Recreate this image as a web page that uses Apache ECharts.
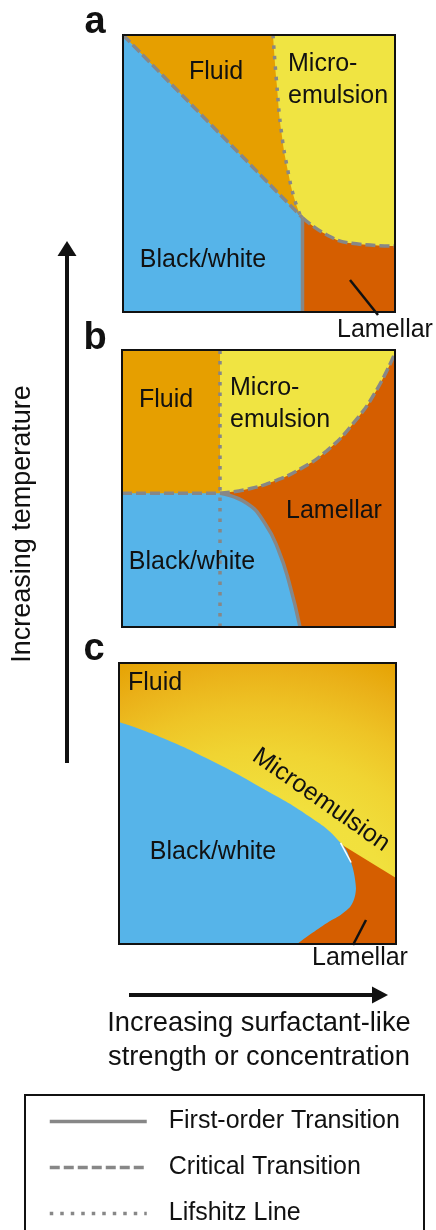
<!DOCTYPE html>
<html>
<head>
<meta charset="utf-8">
<script src="https://cdn.jsdelivr.net/npm/echarts@6/dist/echarts.min.js"></script>
<style>
  html, body { margin: 0; padding: 0; background: #fff; }
  #phase-diagram { width: 436px; height: 1230px; }
</style>
</head>
<body>
<div id="phase-diagram"></div>
<script>
// x = surfactant-like strength (0..1), y = temperature (0..1), one grid per panel

// panel a
const aCritical = [[0, 1], [0.33, 0.67], [0.66, 0.34]];
const aLifshitz = [[0.5515, 1], [0.565, 0.826], [0.583, 0.645], [0.608, 0.501], [0.628, 0.416], [0.652, 0.348]];
const aLamellarTop = [[0.66, 0.34], [0.75, 0.278], [0.84, 0.248], [1, 0.238]];
const aFirstOrder = [[0.66, 0.34], [0.66, 0]];
const aFluidBlock = [[0, 1], [0.5515, 1]];

// panel b
const bCritical = [[0, 0.483], [0.359, 0.483]];
const bMicroLamellar = [[0.359, 0.483], [0.457, 0.497], [0.554, 0.525], [0.652, 0.57], [0.75, 0.636], [0.847, 0.735], [0.933, 0.856], [1, 0.99]];
const bFirstOrder = [[0.359, 0.483], [0.457, 0.447], [0.524, 0.374], [0.573, 0.278], [0.613, 0.158], [0.652, 0]];
const bLifshitz = [[0.359, 0], [0.359, 1]];
const bFluidBlock = [[0, 1], [0.359, 1]];

// panel c
const cWhole = [[0, 1], [1, 1]];
const cBlackWhiteUpper = [[0, 0.79], [0.148, 0.737], [0.329, 0.655], [0.509, 0.559], [0.69, 0.452], [0.798, 0.362], [0.838, 0.29], [0.8556, 0.2]];
const cBlackWhiteLower = [[0.643, 0], [0.697, 0.039], [0.751, 0.075], [0.809, 0.11], [0.845, 0.15], [0.8556, 0.2]];
const cLamellarTop = [[0.64, 0.453], [1, 0.235]];
const cGlint = [[0.8, 0.36], [0.838, 0.29]];

// box outline; goes round once and a bit so that no edge is the closing one
const frame = [[0, 0], [1, 0], [1, 1], [0, 1], [0, 0], [1, 0]];
const legendNames = ['First-order Transition', 'Critical Transition', 'Lifshitz Line'];

const ORANGE = '#E69F00', BLUE = '#56B4E9', YELLOW = '#F0E442', RED = '#D55E00';
const GRAY = '#878787', INK = '#111';
const FONT = '"Liberation Sans", Arial, Helvetica, sans-serif';

const dashes = {
  solid: 'solid',
  dashed: [10, 4],
  dotted: [3.5, 7]
};

function fill(g, data, color, smooth, z) {
  return {
    type: 'line', name: 'region', xAxisIndex: g, yAxisIndex: g,
    data: data, smooth: smooth, symbol: 'none', silent: true, z: z,
    lineStyle: { width: 0 },
    areaStyle: { color: color, opacity: 1, origin: 'start' }
  };
}

function edge(g, name, data, kind, smooth) {
  return {
    type: 'line', name: name, xAxisIndex: g, yAxisIndex: g,
    data: data, smooth: smooth, symbol: 'none', silent: true, z: 10,
    lineStyle: { color: GRAY, width: 3.5, type: dashes[kind], cap: 'butt' }
  };
}

function box(g) {
  return {
    type: 'line', name: 'frame', xAxisIndex: g, yAxisIndex: g,
    data: frame, symbol: 'none', silent: true, clip: false, z: 20,
    lineStyle: { color: INK, width: 2, join: 'miter' }
  };
}

const fluidGlow = new echarts.graphic.RadialGradient(0.5, 1.05, 1.25, [
  { offset: 0, color: '#F2E444' },
  { offset: 0.45, color: '#F1E03D' },
  { offset: 0.6, color: '#F0D432' },
  { offset: 0.72, color: '#EEC426' },
  { offset: 0.84, color: '#EAB018' },
  { offset: 0.95, color: '#E5A100' },
  { offset: 1, color: '#E39E00' }
]);

const series = [
  // a
  fill(0, aFluidBlock, ORANGE, false, 1),
  fill(0, aLifshitz, ORANGE, true, 1),
  fill(0, aCritical, BLUE, true, 2),
  fill(0, aLamellarTop, RED, true, 3),
  edge(0, 'Critical Transition', aCritical, 'dashed', true),
  edge(0, 'Critical Transition', aLamellarTop, 'dashed', true),
  edge(0, 'Lifshitz Line', aLifshitz, 'dotted', true),
  edge(0, 'First-order Transition', aFirstOrder, 'solid', false),
  box(0),
  // b
  fill(1, bFluidBlock, ORANGE, false, 1),
  fill(1, bMicroLamellar, RED, true, 2),
  fill(1, bCritical, BLUE, false, 3),
  fill(1, bFirstOrder, BLUE, true, 3),
  edge(1, 'Critical Transition', bCritical, 'dashed', false),
  edge(1, 'Critical Transition', bMicroLamellar, 'dashed', true),
  edge(1, 'First-order Transition', bFirstOrder, 'solid', true),
  edge(1, 'Lifshitz Line', bLifshitz, 'dotted', false),
  box(1),
  // c
  fill(2, cWhole, fluidGlow, false, 1),
  fill(2, cLamellarTop, RED, false, 2),
  fill(2, cBlackWhiteUpper, BLUE, true, 3),
  fill(2, cBlackWhiteLower, RED, true, 4),
  {
    type: 'line', name: 'glint', xAxisIndex: 2, yAxisIndex: 2, data: cGlint,
    symbol: 'none', silent: true, z: 5, lineStyle: { color: '#fff', width: 1.5 }
  },
  box(2)
];

function txt(text, x, y, size, opt) {
  opt = opt || {};
  return {
    type: 'text', x: x, y: y, rotation: opt.rotation || 0, silent: true, z: 30,
    style: {
      text: text, fill: INK,
      font: (opt.bold ? 'bold ' : '') + size + 'px ' + FONT,
      align: opt.align || 'center', verticalAlign: 'middle'
    }
  };
}

const graphics = [
  txt('a', 95, 23, 38, { bold: true }),
  txt('b', 95, 339, 38, { bold: true }),
  txt('c', 94, 650, 38, { bold: true }),

  txt('Fluid', 216, 72, 25),
  txt('Micro-', 288, 64, 25, { align: 'left' }),
  txt('emulsion', 288, 96.5, 25, { align: 'left' }),
  txt('Black/white', 203, 260, 25),
  txt('Lamellar', 385, 330, 25),

  txt('Fluid', 166, 400, 25),
  txt('Micro-', 230, 388, 25, { align: 'left' }),
  txt('emulsion', 230, 420, 25, { align: 'left' }),
  txt('Lamellar', 334, 511, 25),
  txt('Black/white', 192, 562, 25),

  txt('Fluid', 128, 683, 25, { align: 'left' }),
  txt('Black/white', 213, 852, 25),
  txt('Microemulsion', 321, 800, 25, { rotation: -35 * Math.PI / 180 }),
  txt('Lamellar', 360, 958, 25),

  txt('Increasing temperature', 23, 524, 27, { rotation: Math.PI / 2 }),
  txt('Increasing surfactant-like', 259, 1023, 27.3),
  txt('strength or concentration', 259, 1057, 27.3),

  // pointers to the lamellar slivers
  { type: 'line', silent: true, z: 30, shape: { x1: 350, y1: 280, x2: 378, y2: 315 }, style: { stroke: INK, lineWidth: 2.5 } },
  { type: 'line', silent: true, z: 30, shape: { x1: 366, y1: 920, x2: 353, y2: 945 }, style: { stroke: INK, lineWidth: 2.5 } },

  // axis arrows
  { type: 'line', silent: true, z: 30, shape: { x1: 67, y1: 763, x2: 67, y2: 254 }, style: { stroke: INK, lineWidth: 4 } },
  { type: 'polygon', silent: true, z: 30, shape: { points: [[57.5, 256], [67, 241], [76.5, 256]] }, style: { fill: INK } },
  { type: 'line', silent: true, z: 30, shape: { x1: 129, y1: 995, x2: 374, y2: 995 }, style: { stroke: INK, lineWidth: 4 } },
  { type: 'polygon', silent: true, z: 30, shape: { points: [[372, 986.5], [388, 995], [372, 1003.5]] }, style: { fill: INK } },

  // legend frame
  { type: 'rect', silent: true, z: 30, shape: { x: 25, y: 1095, width: 399, height: 220 }, style: { fill: 'none', stroke: INK, lineWidth: 2 } }
];

const chart = echarts.init(document.getElementById('phase-diagram'));
chart.setOption({
  animation: false,
  backgroundColor: '#fff',
  grid: [
    { left: 123, top: 35, width: 272, height: 277, show: true, backgroundColor: YELLOW, borderWidth: 0 },
    { left: 122, top: 350, width: 273, height: 277, show: true, backgroundColor: YELLOW, borderWidth: 0 },
    { left: 119, top: 663, width: 277, height: 281, show: false }
  ],
  xAxis: [0, 1, 2].map(i => ({ type: 'value', gridIndex: i, min: 0, max: 1, show: false })),
  yAxis: [0, 1, 2].map(i => ({ type: 'value', gridIndex: i, min: 0, max: 1, show: false })),
  legend: {
    data: legendNames,
    orient: 'vertical',
    left: 48,
    top: 1109,
    padding: 0,
    itemWidth: 97,
    itemHeight: 25,
    itemGap: 21,
    selectedMode: false,
    lineStyle: { width: 3.5 },
    itemStyle: { opacity: 0 },
    textStyle: { fontSize: 25, color: INK, fontFamily: FONT, padding: [0, 0, 0, 17] }
  },
  graphic: graphics,
  series: series
});
</script>
</body>
</html>
